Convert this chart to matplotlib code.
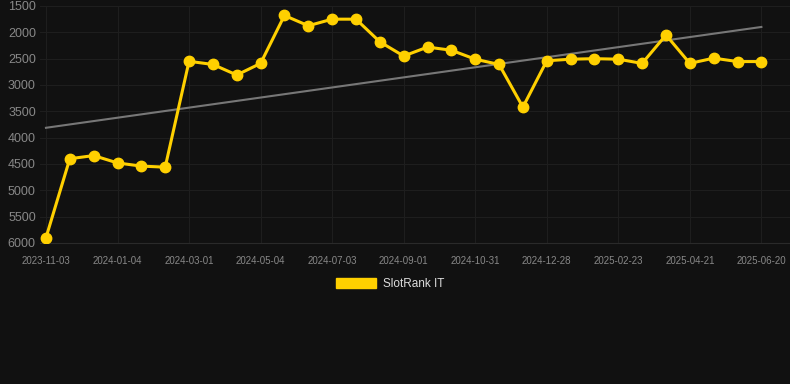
import numpy as np
import matplotlib
matplotlib.use("Agg")
from matplotlib import pyplot as plt
from matplotlib.patches import Patch

# DATA ########################################################################

tick_labels = ["2023-11-03", "2024-01-04", "2024-03-01", "2024-05-04",
               "2024-07-03", "2024-09-01", "2024-10-31", "2024-12-28",
               "2025-02-23", "2025-04-21", "2025-06-20"]

rank_it = [5900, 4400, 4340, 4480, 4540, 4560,
           2550, 2610, 2810, 2590, 1680, 1875, 1750, 1750,
           2180, 2450, 2280, 2340, 2510, 2610, 3420, 2540,
           2510, 2500, 2510, 2590, 2050, 2590, 2490, 2555, 2555]

y_ticks = [1500, 2000, 2500, 3000, 3500, 4000, 4500, 5000, 5500, 6000]

# PLOT ########################################################################

plt.rcParams["font.family"] = ["Liberation Sans", "DejaVu Sans"]

bg = "#111111"
fig = plt.figure(figsize=(7.9, 3.84), dpi=100, facecolor=bg)
ax = fig.add_axes([40 / 790, 141 / 384, 750 / 790, 237 / 384], facecolor=bg)

x = np.arange(len(rank_it))

# trend line (least squares fit)
coef = np.polyfit(x, rank_it, 1)
ax.plot(x, np.polyval(coef, x), color="#777777", linewidth=1.5, zorder=2)

ax.plot(x, rank_it, color="#FFD000", linewidth=2.2,
        marker="o", markersize=7.5, zorder=3)

ax.set_ylim(6000, 1500)
ax.set_xlim(-0.25, 31.2)
ax.set_yticks(y_ticks)
ax.set_xticks(x[::3])
ax.set_xticklabels(tick_labels)

ax.grid(True, color="#1e1e1e", linewidth=0.8)
ax.set_axisbelow(True)
for side in ["top", "right", "left"]:
    ax.spines[side].set_visible(False)
ax.spines["bottom"].set_color("#2a2a2a")

ax.tick_params(axis="both", length=0, colors="#888888")
ax.tick_params(axis="y", labelsize=9, pad=3)
ax.tick_params(axis="x", labelsize=7, pad=9)

handle = Patch(facecolor="#FFD000", edgecolor="#FFD000")
fig.legend([handle], ["SlotRank IT"], loc="center", bbox_to_anchor=(390 / 790, 1 - 284 / 384),
           frameon=False, labelcolor="#dddddd", fontsize=8.5,
           handlelength=3.4, handleheight=0.9, handletextpad=0.6)

fig.savefig("out.png", dpi=100, facecolor=bg)
